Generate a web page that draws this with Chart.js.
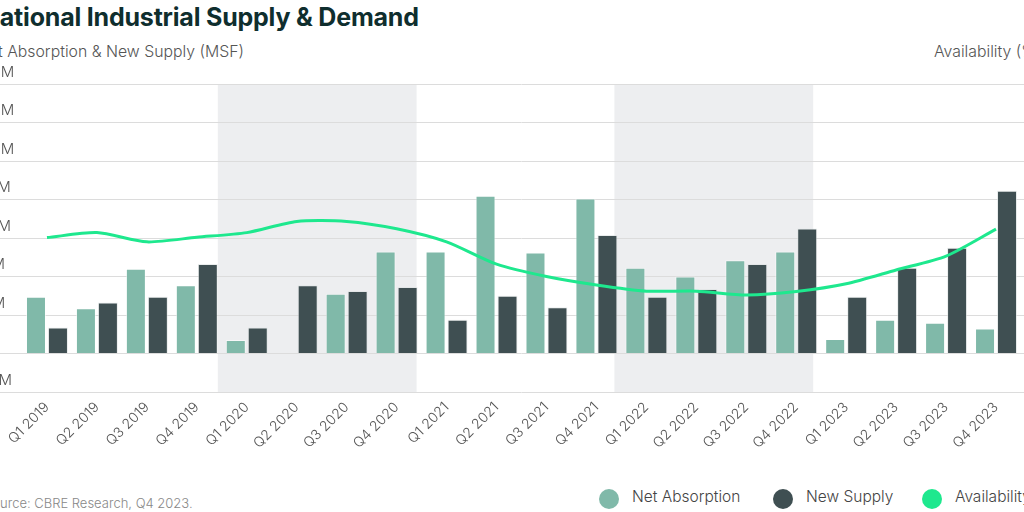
<!DOCTYPE html>
<html>
<head>
<meta charset="utf-8">
<script src="https://cdn.jsdelivr.net/npm/chart.js@4.4.1/dist/chart.umd.min.js"></script>
<style>
  html, body { margin:0; width:1024px; height:512px; overflow:hidden; background:#fff; font-family:Inter, "Open Sans", sans-serif; }
  .txt { position:absolute; white-space:nowrap; }
  #title { top:1px; font-size:25px; font-weight:700; color:#0f2e2e; line-height:32px; letter-spacing:-0.2px; }
  #ytitle { top:42px; font-size:15.8px; font-weight:300; color:#555; line-height:20px; }
  #rtitle { top:42px; left:934px; font-size:15.8px; font-weight:300; color:#555; line-height:20px; }
  #source { top:494px; font-size:13px; font-weight:300; color:#888; line-height:18px; }
  #chartBox { position:absolute; left:-27px; top:64px; width:1108px; height:398px; }
  .leg { position:absolute; top:489px; height:20px; font-size:15.5px; font-weight:300; color:#444; line-height:20px; white-space:nowrap; }
  .leg i { position:absolute; left:0; top:0; width:20px; height:20px; border-radius:50%; }
  .leg span { position:absolute; left:33px; top:-2px; }
</style>
</head>
<body>
<div id="title" class="txt">National Industrial Supply &amp; Demand</div>
<div id="ytitle" class="txt">Net Absorption &amp; New Supply (MSF)</div>
<div id="rtitle" class="txt">Availability (%)</div>
<div id="chartBox"><canvas id="chart"></canvas></div>
<div id="source" class="txt">Source: CBRE Research, Q4 2023.</div>
<div class="leg" style="left:599px"><i style="background:#80b9a9"></i><span>Net Absorption</span></div>
<div class="leg" style="left:773px"><i style="background:#3f4f52"></i><span>New Supply</span></div>
<div class="leg" style="left:922px"><i style="background:#1ee88e"></i><span>Availability</span></div>

<script>
// Supply & demand chart

const quarters = ['Q1 2019','Q2 2019','Q3 2019','Q4 2019','Q1 2020','Q2 2020','Q3 2020','Q4 2020',
  'Q1 2021','Q2 2021','Q3 2021','Q4 2021','Q1 2022','Q2 2022','Q3 2022','Q4 2022',
  'Q1 2023','Q2 2023','Q3 2023','Q4 2023'];

const netAbsorption = [59, 47, 88, 71, 14, 0, 62, 106, 106, 164, 105, 161, 89, 80, 97, 106, 15, 35, 32, 26];
const newSupply     = [27, 53, 59, 93, 27, 71, 65, 69, 35, 60, 48, 123, 59, 67, 93, 130, 59, 89, 110, 169];
const availability  = [7.01, 7.14, 6.90, 7.02, 7.14, 7.43, 7.43, 7.24, 6.90, 6.32, 6.00, 5.78,
  5.62, 5.62, 5.52, 5.61, 5.81, 6.17, 6.53, 7.23];

// shaded years (first and last quarter index)
const shadedRanges = [[4, 7], [12, 15]];

const leftAxis  = { min: -40, max: 280, step: 40 };
const rightAxis = { min: 3, max: 11, step: 1 };

function textWidth(str, font){
  const c = document.createElement('canvas').getContext('2d');
  c.font = font;
  return c.measureText(str).width;
}

// the picture is cropped on the left: push the cut text off screen
document.getElementById('title').style.left  = -textWidth('N', '700 25px Inter') + 'px';
document.getElementById('ytitle').style.left = -(textWidth('Ne', '300 15.8px Inter') + 2) + 'px';
document.getElementById('source').style.left = -textWidth('So', '300 13px Inter') + 'px';

const bandPlugin = {
  id: 'bands',
  beforeDraw(chart){
    const {ctx, chartArea, scales:{x}} = chart;
    const half = (x.getPixelForValue(1) - x.getPixelForValue(0)) / 2;
    ctx.save();
    ctx.fillStyle = '#edeef0';
    shadedRanges.forEach(([a, b], i) => {
      const shift = i === 0 ? -4 : -7;
      const x0 = x.getPixelForValue(a) - half + shift;
      const x1 = x.getPixelForValue(b) + half + shift - 1;
      ctx.fillRect(x0, chartArea.top, x1 - x0, chartArea.bottom - chartArea.top);
    });
    ctx.restore();
  }
};

new Chart(document.getElementById('chart'), {
  type: 'bar',
  data: {
    labels: quarters,
    datasets: [
      { type:'line', label:'Availability', data: availability, yAxisID:'y2', order:0,
        borderColor:'#1ee88e', borderWidth:3, pointRadius:0, tension:0.25, fill:false },
      { label:'Net Absorption', data: netAbsorption, yAxisID:'y', order:1,
        backgroundColor:'#80b9a9', borderColor:'rgba(255,255,255,0.55)', borderWidth:1,
        categoryPercentage:0.88, barPercentage:0.91 },
      { label:'New Supply', data: newSupply, yAxisID:'y', order:1,
        backgroundColor:'#3f4f52', borderColor:'rgba(220,225,225,0.6)', borderWidth:1,
        categoryPercentage:0.88, barPercentage:0.91 }
    ]
  },
  options: {
    responsive: true,
    maintainAspectRatio: false,
    animation: false,
    layout: { padding: { top: 20, left: 0, right: 0, bottom: 0 } },
    plugins: { legend: { display:false }, tooltip: { enabled:false } },
    scales: {
      x: {
        grid: { display:false, drawTicks:false },
        border: { display:false },
        ticks: { color:'#555', font:{ family:'Inter', size:14, weight:300 }, minRotation:45, maxRotation:45, autoSkip:false, padding:7 },
        afterFit: s => { s.height = 70; }
      },
      y: {
        position:'left',
        min: leftAxis.min, max: leftAxis.max,
        grid: { color:'#dcdcdc', lineWidth:1, tickLength:49 },
        border: { display:false },
        ticks: { stepSize: leftAxis.step, color:'#555', font:{ family:'Inter', size:15, weight:300 },
          crossAlign:'far', labelOffset:-12, padding:0, callback: v => v + 'M' },
        afterFit: s => { s.width = 49; }
      },
      y2: {
        position:'right',
        min: rightAxis.min, max: rightAxis.max,
        grid: { color:'#dcdcdc', lineWidth:1, tickLength:60, drawOnChartArea:false },
        border: { display:false },
        ticks: { stepSize: rightAxis.step, color:'#555', font:{ family:'Inter', size:15, weight:300 },
          crossAlign:'far', labelOffset:-12, padding:0, callback: v => v.toFixed(1) + '%' },
        afterFit: s => { s.width = 60; }
      }
    }
  },
  plugins: [bandPlugin]
});
</script>
</body>
</html>
